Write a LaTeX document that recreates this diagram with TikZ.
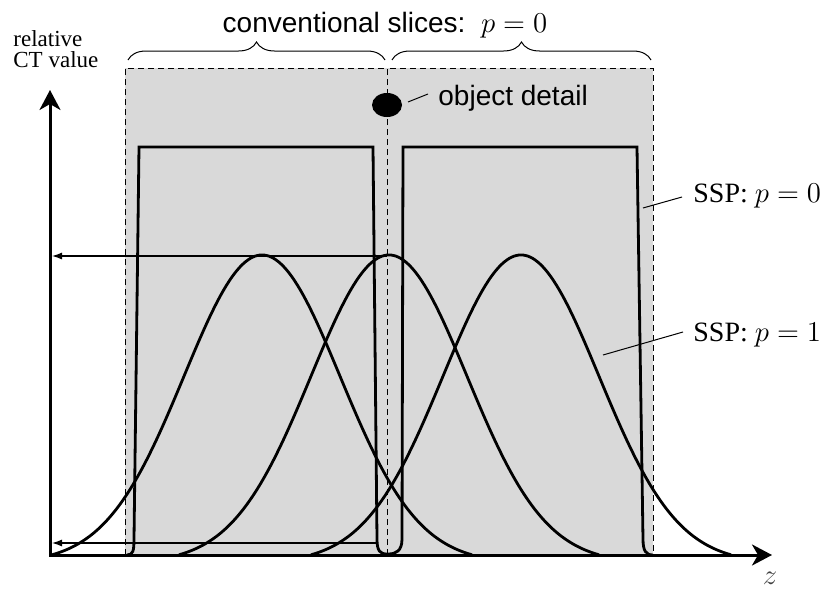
\documentclass[tikz,border=0pt]{standalone}
\usepackage{fontspec}
\setmainfont{Liberation Serif}
\newfontfamily\labelsans{Liberation Sans}
\usetikzlibrary{arrows.meta,decorations.pathreplacing,shapes.geometric}

\tikzset{
  slice/.style={fill=black!15, draw, densely dashed, line width=0.5pt},
  ssp/.style={line width=1.4pt},
  axis/.style={line width=1.5pt, {Stealth[length=10pt,width=10.5pt,inset=3pt]}-{Stealth[length=10pt,width=10.5pt,inset=3pt]}},
  readout/.style={line width=0.6pt, -{Latex[length=5pt,width=3.5pt]}},
  leader/.style={line width=0.5pt},
  sans/.style={font=\labelsans\fontsize{14}{16}\selectfont},
  serif/.style={font=\fontsize{14}{16}\selectfont}
}

\begin{document}
\begin{tikzpicture}[x=0.5pt, y=0.5pt]
  \useasboundingbox (0,0) rectangle (836,591);

  % conventional slices
  \draw[slice] (125,36) rectangle (387,523);
  \draw[slice] (387,36) rectangle (653,523);
  \draw[line width=0.5pt, decorate, decoration={brace, amplitude=9pt}] (128,531) -- (385,531);
  \draw[line width=0.5pt, decorate, decoration={brace, amplitude=9pt}] (392,531) -- (651,531);
  \node[sans, anchor=base] (title) at (385,559) {conventional slices:\ \ $p = 0$};

  % SSP p=0
  \draw[ssp] (127,36) .. controls (133,36) and (134,40) .. (134,52) -- (139,444) -- (373,444) -- (377,52) .. controls (377,40) and (380,37) .. (387,37);
  \draw[ssp] (388,37) .. controls (396,37) and (402,40) .. (402,52) -- (403,444) -- (637,444) -- (643,52) .. controls (643,40) and (646,36) .. (653,36);

  % SSP p=1
  \foreach \mu in {262,389,521}
    \draw[ssp, smooth, samples=90, domain=\mu-210:\mu+210]
      plot (\x, {28+308*exp(-0.822*((\x-\mu)/100)*((\x-\mu)/100))});

  % axes
  \coordinate (origin) at (50,36);
  \coordinate (xend) at (772,36);
  \coordinate (yend) at (50,501);
  \draw[axis] (xend) -- (origin) -- (yend);
  \node[font=\fontsize{14}{16}\selectfont, text=black!75] (zlabel) at (770,13) {$z$};
  \node[font=\fontsize{11.5}{10}\selectfont, align=left, anchor=base west, inner sep=0] (ylabel) at (13,524) {relative\\CT value};

  % read-out arrows
  \coordinate (peak) at (387,335);
  \coordinate (peakval) at (52,335);
  \coordinate (edge) at (377,48);
  \coordinate (edgeval) at (52,48);
  \draw[readout] (peak) -- (peakval);
  \draw[readout] (edge) -- (edgeval);

  % object detail
  \node[ellipse, fill=black, minimum width=15pt, minimum height=12pt, inner sep=0] (obj) at (387,486) {};
  \node[sans, anchor=base west, inner sep=0] (objlabel) at (438,486) {object detail};
  \draw[leader] (408,489) -- (428,497);

  % labels
  \node[serif, anchor=base west, inner sep=0] (ssp0) at (693,389) {SSP: $p = 0$};
  \node[serif, anchor=base west, inner sep=0] (ssp1) at (693,250) {SSP: $p = 1$};
  \draw[leader] (643,383) -- (682,394);
  \draw[leader] (603,236) -- (683,259);
\end{tikzpicture}
\end{document}
